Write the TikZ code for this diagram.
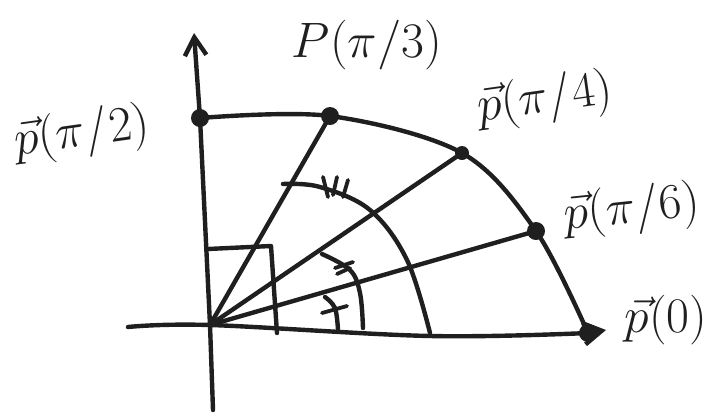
\documentclass[tikz,border=0pt]{standalone}
\usepackage{amsmath,amssymb}
\usetikzlibrary{arrows.meta}
\tikzset{
  sk/.style     ={line width=2.2pt, black!88, line cap=round, line join=round},
  skaxis/.style ={sk, -{Straight Barb[length=3.2mm, width=3.8mm]}},
  skdot/.style  ={circle, fill=black!88, minimum size=9pt, inner sep=0pt},
  skdotsm/.style={skdot, minimum size=7pt},
  sklabel/.style={font=\fontsize{24}{28}\selectfont, black!88, inner sep=1pt},
  skmark/.style ={sk, line width=1.9pt},
}

\begin{document}
\begin{tikzpicture}[x=0.5pt, y=-0.5pt]
  \useasboundingbox (0,0) rectangle (723,414);
  % origin and axis ends
  \coordinate (o) at (210,325);
  \coordinate (ybot) at (213,410);
  \coordinate (ytop) at (194,33);
  \coordinate (xleft) at (128,327);
  \coordinate (xright) at (606,330);
  % points on the arc
  \node[skdot]   (p2) at (200,118) {};
  \node[skdot]   (p3) at (330,116) {};
  \node[skdotsm] (p4) at (462,153) {};
  \node[skdot]   (p6) at (536,231) {};
  \node[skdot]   (p0) at (588,333) {};
  % axes
  \draw[skaxis] (ybot) -- (o) -- (p2.center) -- (ytop);
  \draw[skaxis] plot[smooth, tension=0.6] coordinates {(xleft) (o) (430,336) (p0.center)} -- (xright);
  % the arc
  \draw[sk] plot[smooth, tension=0.55] coordinates {(p2.center) (p3.center) (p4.center) (p6.center) (p0.center)};
  % rays
  \draw[sk] (o) -- (p3.center);
  \draw[sk] (o) -- (p4.center);
  \draw[sk] (o) -- (p6.center);
  % box
  \draw[sk] (208,249) -- (271,246) -- (277,333);
  % angle arcs
  \draw[sk] plot[smooth, tension=0.6] coordinates {(283,184) (320,187) (370,210) (407,260) (430,333)};
  \draw[sk] plot[smooth, tension=0.6] coordinates {(322,254) (350,270) (360,293) (363,328)};
  \draw[sk] plot[smooth, tension=0.6] coordinates {(325,297) (335,308) (338,330)};
  % tick marks
  \draw[skmark] (323,177) -- (328,197);
  \draw[skmark] (337,177) -- (333,195);
  \draw[skmark] (348,180) -- (343,197);
  \draw[skmark] (335,268) -- (353,262);
  \draw[skmark] (337,274) -- (350,268);
  \draw[skmark] (322,313) -- (347,306);
  % labels
  \node[sklabel, rotate=8] (lp2) at (82,134) {$\vec{p}(\pi/2)$};
  \node[sklabel] (lp3) at (367,45) {$P(\pi/3)$};
  \node[sklabel, rotate=8] (lp4) at (545,100) {$\vec{p}(\pi/4)$};
  \node[sklabel, rotate=6] (lp6) at (632,210) {$\vec{p}(\pi/6)$};
  \node[sklabel] (lp0) at (666,320) {$\vec{p}(0)$};
\end{tikzpicture}
\end{document}
